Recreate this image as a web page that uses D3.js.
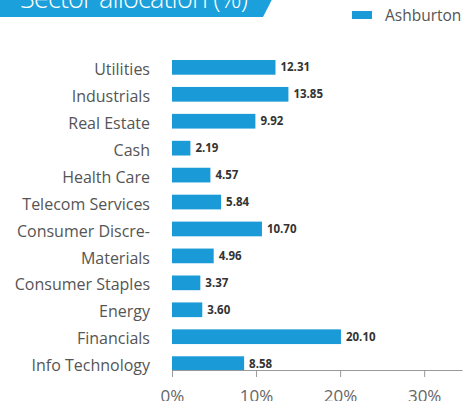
<!DOCTYPE html>
<html>
<head>
<meta charset="utf-8">
<script src="https://cdn.jsdelivr.net/npm/d3@7"></script>
<style>
  body { margin: 0; background: #fff; }
  svg { display: block; }
</style>
</head>
<body>
<div id="chart"></div>
<script>
// data
var sectors = ["Utilities", "Industrials", "Real Estate", "Cash", "Health Care", "Telecom Services",
               "Consumer Discre-", "Materials", "Consumer Staples", "Energy", "Financials", "Info Technology"];
var weights = [12.31, 13.85, 9.92, 2.19, 4.57, 5.84, 10.70, 4.96, 3.37, 3.60, 20.10, 8.58];
var xTicks = [0, 10, 20, 30];
var seriesName = "Ashburton";
var chartTitle = "Sector allocation (%)";

var width = 465, height = 401;
var blue = "#1a9bd7";
var font = "'Open Sans', sans-serif";

var svg = d3.select("#chart").append("svg")
  .attr("width", width)
  .attr("height", height);

// title banner (top is cut off in the original)
svg.append("path")
  .attr("d", "M0,-20 L282,-20 L263,17 L0,17 Z")
  .attr("fill", "#1ba0db");
svg.append("text")
  .attr("x", 20).attr("y", 8)
  .attr("textLength", 228)
  .text(chartTitle)
  .style("font-family", font)
  .style("font-size", "27px")
  .style("font-weight", "300")
  .style("fill", "#fff");

// legend
svg.append("rect").attr("x", 352).attr("y", 11).attr("width", 20).attr("height", 8).attr("fill", blue);
svg.append("text").attr("x", 385).attr("y", 21).text(seriesName)
  .style("font-family", font).style("font-size", "15.5px").style("fill", "#555");

// scales
var x = d3.scaleLinear().domain([0, 34.5]).range([172, 462]);
var y = d3.scaleBand().domain(sectors).range([60, 371]).paddingInner(0.454).paddingOuter(0);

// bars
svg.selectAll(".bar")
  .data(weights)
  .enter().append("rect")
  .attr("class", "bar")
  .attr("x", x(0))
  .attr("y", function(d, i) { return y(sectors[i]); })
  .attr("width", function(d) { return x(d) - x(0); })
  .attr("height", y.bandwidth())
  .attr("fill", blue);

// value labels
svg.selectAll(".val")
  .data(weights)
  .enter().append("text")
  .attr("class", "val")
  .attr("x", function(d) { return x(d) + 5; })
  .attr("y", function(d, i) { return y(sectors[i]) + y.bandwidth() / 2; })
  .attr("dy", "0.35em")
  .text(function(d) { return d.toFixed(2); })
  .style("font-family", font)
  .style("font-size", "11.5px")
  .style("font-weight", "bold")
  .style("fill", "#333");

// category labels
svg.selectAll(".cat")
  .data(sectors)
  .enter().append("text")
  .attr("class", "cat")
  .attr("x", 150)
  .attr("y", function(d) { return y(d) + y.bandwidth() / 2 + 2; })
  .attr("dy", "0.35em")
  .attr("text-anchor", "end")
  .text(function(d) { return d; })
  .style("font-family", font)
  .style("font-size", "16px")
  .style("fill", "#555");

// x axis
var xAxis = svg.append("g")
  .attr("transform", "translate(0,370)")
  .call(d3.axisBottom(x).tickValues(xTicks).tickSize(7).tickSizeOuter(0).tickPadding(13)
    .tickFormat(function(d) { return d + "%"; }));
xAxis.select(".domain").attr("stroke", "#999");
xAxis.selectAll(".tick line").attr("stroke", "#999");
xAxis.selectAll(".tick text")
  .style("font-family", font)
  .style("font-size", "17px")
  .style("fill", "#666");
</script>
</body>
</html>
